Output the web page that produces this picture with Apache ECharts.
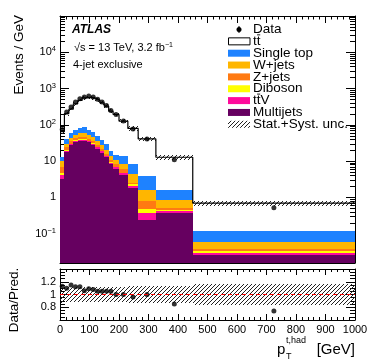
<!DOCTYPE html>
<html>
<head>
<meta charset="UTF-8">
<title>pT t,had 4-jet exclusive</title>
<script src="https://cdn.jsdelivr.net/npm/echarts@6/dist/echarts.min.js"></script>
<style>
    html, body { margin: 0; padding: 0; background: #fff; }
    #chart { width: 374px; height: 363px; }
</style>
</head>
<body>
<div id="chart"></div>
<script>
// bin edges in GeV
var binEdges = [0, 15, 30, 45, 60, 75, 90, 105, 120, 135, 150, 165, 180, 200, 230, 265, 325, 450, 1000];

// events / GeV
var dataVals  = [74, 226, 310, 427, 528, 590, 626, 590, 505, 427, 344, 250, 193, 127, 77, 41, 10.9, 0.52];
var ttbar     = [52.8, 165, 210, 308, 388, 471, 501, 483, 431, 368, 298, 219, 178, 113, 71.4, 37.1, 11.2, 0.58];
var singleTop = [2.4, 9.9, 16.5, 19.9, 24.5, 26.3, 19.9, 17.7, 14.5, 11.3, 8.7, 5.5, 4.5, 5.7, 4.3, 2.3, 0.76, 0.056];
var wJets     = [3.5, 5.6, 7.6, 9.2, 11.7, 14.5, 11.8, 10.2, 8.1, 6.3, 4.8, 3.1, 2.4, 2.3, 1.74, 0.81, 0.33, 0.023];
var zJets     = [2.2, 3.9, 5.3, 6.4, 6.0, 5.1, 4.8, 4.0, 3.1, 2.4, 1.8, 1.3, 1.3, 1.15, 0.26, 0.305, 0.046, 0.0033];
var diboson   = [0.5, 0.9, 1.3, 1.6, 1.6, 1.3, 1.1, 0.9, 0.8, 0.6, 0.4, 0.3, 0.3, 0.25, 0.22, 0.11, 0.034, 0.004];
var ttV       = [0.8, 1.7, 2.3, 2.8, 2.9, 2.5, 2.3, 2.1, 1.7, 1.3, 1.0, 0.6, 0.5, 0.5, 0.22, 0.13, 0.054, 0.0036];
var multijets = [3.3, 17.5, 27.0, 32.7, 35.9, 36.6, 32.7, 27.8, 22.2, 17.2, 12.9, 8.5, 6.2, 4.1, 1.86, 0.245, 0.376, 0.026];

// relative stat+syst uncertainty of the prediction
var uncFrac   = [0.13, 0.12, 0.12, 0.12, 0.12, 0.12, 0.12, 0.12, 0.12, 0.12, 0.12, 0.12, 0.12, 0.12, 0.13, 0.13, 0.14, 0.16];

// data / prediction
var ratioVals = [1.13, 1.10, 1.15, 1.12, 1.12, 1.06, 1.09, 1.08, 1.05, 1.05, 1.05, 1.05, 1.0, 1.0, 0.96, 1.0, 0.85, 0.74];

var xTicks = [0, 100, 200, 300, 400, 500, 600, 700, 800, 900, 1000];
var ratioTicks = [0.8, 1, 1.2];

var Y_MIN = 0.0156, Y_MAX = 1.0e5;
var FONT = '"Liberation Sans", Arial, Helvetica, sans-serif';

// colours, bottom of the stack first
var stackDef = [
    {name: 'Multijets', vals: multijets, color: '#660060'},
    {name: 'ttV', vals: ttV, color: '#ff0a9c'},
    {name: 'Diboson', vals: diboson, color: '#ffff00'},
    {name: 'Z+jets', vals: zJets, color: '#ff7a12'},
    {name: 'W+jets', vals: wJets, color: '#ffb600'},
    {name: 'Single top', vals: singleTop, color: '#1e82ff'}
];

function makeHatch () {
    var c = document.createElement('canvas');
    c.width = 4; c.height = 4;
    var ctx = c.getContext('2d');
    ctx.strokeStyle = '#222';
    ctx.lineWidth = 1;
    ctx.beginPath();
    ctx.moveTo(0, 4); ctx.lineTo(4, 0);
    ctx.moveTo(-1, 1); ctx.lineTo(1, -1);
    ctx.moveTo(3, 5); ctx.lineTo(5, 3);
    ctx.stroke();
    return c;
}
var hatch = {image: makeHatch(), repeat: 'repeat'};

// rectangle from [x0, x1, low, high], snapped to whole pixels so neighbours touch
function rectItem (params, api) {
    var p0 = api.coord([api.value(0), api.value(3)]);
    var p1 = api.coord([api.value(1), api.value(2)]);
    var x0 = Math.round(p0[0]), x1 = Math.round(p1[0]);
    var y0 = Math.round(p0[1]), y1 = Math.round(p1[1]);
    return {
        type: 'rect',
        shape: {x: x0, y: y0, width: x1 - x0, height: y1 - y0},
        style: api.style()
    };
}

var series = [];
var cum = binEdges.slice(1).map(function () { return 0; });
stackDef.forEach(function (s) {
    var items = s.vals.map(function (v, i) {
        var low = cum[i] > 0 ? cum[i] : Y_MIN;
        cum[i] += v;
        return [binEdges[i], binEdges[i + 1], low, cum[i]];
    });
    series.push({
        type: 'custom', name: s.name, xAxisIndex: 0, yAxisIndex: 0,
        renderItem: rectItem, clip: true, silent: true,
        itemStyle: {color: s.color},
        encode: {x: [0, 1], y: [2, 3]},
        data: items
    });
});

// total prediction (stack + ttbar)
var total = ttbar.map(function (v, i) { return v + cum[i]; });

// ttbar outline
var stepData = total.map(function (v, i) { return [binEdges[i], v]; });
stepData.push([binEdges[binEdges.length - 1], total[total.length - 1]]);
series.push({
    type: 'line', name: 'ttbar', xAxisIndex: 0, yAxisIndex: 0, step: 'end',
    symbol: 'none', silent: true, lineStyle: {color: '#000', width: 1.2},
    data: stepData
});

// uncertainty band, main panel
series.push({
    type: 'custom', name: 'unc', xAxisIndex: 0, yAxisIndex: 0,
    renderItem: rectItem, clip: true, silent: true,
    itemStyle: {color: hatch},
    encode: {x: [0, 1], y: [2, 3]},
    data: total.map(function (v, i) {
        return [binEdges[i], binEdges[i + 1], v * (1 - uncFrac[i]), v * (1 + uncFrac[i])];
    })
});

// data points, main panel
series.push({
    type: 'scatter', name: 'Data', xAxisIndex: 0, yAxisIndex: 0,
    symbol: 'circle', symbolSize: 5, itemStyle: {color: '#000'}, silent: true,
    data: dataVals.map(function (v, i) { return [(binEdges[i] + binEdges[i + 1]) / 2, v]; })
});

// ratio band
series.push({
    type: 'custom', name: 'unc ratio', xAxisIndex: 2, yAxisIndex: 2,
    renderItem: rectItem, clip: true, silent: true,
    itemStyle: {color: hatch},
    encode: {x: [0, 1], y: [2, 3]},
    data: uncFrac.map(function (u, i) {
        return [binEdges[i], binEdges[i + 1], 1 - u, 1 + u];
    }),
    markLine: {
        silent: true, symbol: 'none', label: {show: false},
        lineStyle: {color: '#ff0000', type: [4, 3], width: 1},
        data: [{yAxis: 1}]
    }
});

// ratio points
series.push({
    type: 'scatter', name: 'ratio', xAxisIndex: 2, yAxisIndex: 2,
    symbol: 'circle', symbolSize: 5, itemStyle: {color: '#000'}, silent: true,
    data: ratioVals.map(function (v, i) { return [(binEdges[i] + binEdges[i + 1]) / 2, v]; })
});

function xAxisDef (grid, pos, labels, tickLen) {
    return {
        type: 'value', gridIndex: grid, position: pos, min: 0, max: 1000, interval: 100,
        axisLine: {show: true, onZero: false, lineStyle: {color: '#000', width: 1}},
        axisTick: {show: true, inside: true, length: tickLen, lineStyle: {color: '#000'}},
        minorTick: {show: true, splitNumber: 5, length: tickLen / 2, lineStyle: {color: '#000'}},
        splitLine: {show: false},
        axisLabel: {show: labels, color: '#000', fontSize: 11, fontFamily: FONT, margin: 4,
            formatter: function (v) { return xTicks.indexOf(v) >= 0 ? String(v) : ''; }}
    };
}

function logLabel (v) {
    var l = Math.log10(v);
    var e = Math.round(l);
    if (Math.abs(l - e) > 1e-6 || e > 4) return '';
    if (e === 0) return '1';
    if (e === 1) return '10';
    return '{b|10}{s|' + (e < 0 ? '\u2212' + (-e) : e) + '}';
}

function yLogDef (pos, labels) {
    return {
        type: 'log', gridIndex: 0, position: pos, min: Y_MIN, max: Y_MAX, logBase: 10, splitNumber: 10,
        axisLine: {show: true, onZero: false, lineStyle: {color: '#000', width: 1}},
        axisTick: {show: true, inside: true, length: 9, lineStyle: {color: '#000'}},
        minorTick: {show: true, splitNumber: 9, length: 5, lineStyle: {color: '#000'}},
        splitLine: {show: false},
        axisLabel: {show: labels, color: '#000', fontSize: 11, fontFamily: FONT, margin: 4,
            formatter: logLabel,
            rich: {
                b: {fontSize: 11, fontFamily: FONT, color: '#000'},
                s: {fontSize: 7.5, fontFamily: FONT, color: '#000', padding: [0, 0, 6, 0]}
            }}
    };
}

function yRatioDef (pos, labels) {
    return {
        type: 'value', gridIndex: 1, position: pos, min: 0.6, max: 1.4, interval: 0.2,
        axisLine: {show: true, onZero: false, lineStyle: {color: '#000', width: 1}},
        axisTick: {show: true, inside: true, length: 9, lineStyle: {color: '#000'}},
        minorTick: {show: true, splitNumber: 4, length: 5, lineStyle: {color: '#000'}},
        splitLine: {show: false},
        axisLabel: {show: labels, color: '#000', fontSize: 11, fontFamily: FONT, margin: 4,
            formatter: function (v) {
                for (var i = 0; i < ratioTicks.length; i++) {
                    if (Math.abs(v - ratioTicks[i]) < 1e-6) return String(ratioTicks[i]);
                }
                return '';
            }}
    };
}

// legend rows (drawn as graphics); bar marks the second t of tt-bar
var legendRows = [
    {text: 'Data', kind: 'data'},
    {text: 'tt', kind: 'box', bar: true},
    {text: 'Single top', color: '#1e82ff'},
    {text: 'W+jets', color: '#ffb600'},
    {text: 'Z+jets', color: '#ff7a12'},
    {text: 'Diboson', color: '#ffff00'},
    {text: 'ttV', color: '#ff0a9c', bar: true},
    {text: 'Multijets', color: '#660060'},
    {text: 'Stat.+Syst. unc.', kind: 'hatch'}
];
var LEG_FS = 13.5;
var graphics = [];
legendRows.forEach(function (row, i) {
    var yc = 29.5 + 11.85 * i;
    if (row.kind === 'data') {
        graphics.push({type: 'line', shape: {x1: 239, y1: yc - 3.5, x2: 239, y2: yc + 3.5}, style: {stroke: '#000', lineWidth: 1}});
        graphics.push({type: 'circle', shape: {cx: 239, cy: yc, r: 2.5}, style: {fill: '#000'}});
    } else if (row.kind === 'box') {
        graphics.push({type: 'rect', shape: {x: 228.5, y: yc - 3.5, width: 21.5, height: 7}, style: {fill: '#fff', stroke: '#000', lineWidth: 1}});
    } else if (row.kind === 'hatch') {
        graphics.push({type: 'rect', shape: {x: 228, y: yc - 3.5, width: 22, height: 7}, style: {fill: hatch}});
    } else {
        graphics.push({type: 'rect', shape: {x: 228, y: yc - 3.5, width: 22, height: 7}, style: {fill: row.color}});
    }
    graphics.push({type: 'text', x: 253, y: yc, style: {text: row.text, fill: '#000', fontSize: LEG_FS, fontFamily: FONT, verticalAlign: 'middle'}});
    if (row.bar) {
        var tw = 0.278 * LEG_FS;
        graphics.push({type: 'line', shape: {x1: 253 + tw + 0.3, y1: yc - 6.5, x2: 253 + 2 * tw - 0.3, y2: yc - 6.5}, style: {stroke: '#000', lineWidth: 0.9}});
    }
});

graphics.push({type: 'text', x: 72, y: 30, style: {text: 'ATLAS', fill: '#000', fontSize: 12, fontWeight: 'bold', fontStyle: 'italic', fontFamily: FONT, verticalAlign: 'middle'}});
graphics.push({type: 'text', x: 74, y: 48, style: {
    text: '\u221as = 13 TeV, 3.2 fb{s|\u22121}', fill: '#000', fontSize: 11, fontFamily: FONT, verticalAlign: 'middle',
    rich: {s: {fontSize: 7, fontFamily: FONT, fill: '#000', padding: [0, 0, 5, 0]}}
}});
graphics.push({type: 'text', x: 73, y: 65, style: {text: '4-jet exclusive', fill: '#000', fontSize: 11, fontFamily: FONT, verticalAlign: 'middle'}});

// axis titles
graphics.push({type: 'text', x: 19, y: 15, rotation: Math.PI / 2, style: {text: 'Events / GeV', fill: '#000', fontSize: 13.5, fontFamily: FONT, align: 'right', verticalAlign: 'middle'}});
graphics.push({type: 'text', x: 14, y: 300, rotation: Math.PI / 2, style: {text: 'Data/Pred.', fill: '#000', fontSize: 13.5, fontFamily: FONT, align: 'center', verticalAlign: 'middle'}});
graphics.push({type: 'text', x: 277, y: 350, style: {text: 'p', fill: '#000', fontSize: 15, fontFamily: FONT, verticalAlign: 'middle'}});
graphics.push({type: 'text', x: 286, y: 357, style: {text: 'T', fill: '#000', fontSize: 9, fontFamily: FONT, verticalAlign: 'middle'}});
graphics.push({type: 'text', x: 286, y: 341, style: {text: 't,had', fill: '#000', fontSize: 9, fontFamily: FONT, verticalAlign: 'middle'}});
graphics.push({type: 'text', x: 355, y: 350, style: {text: '[GeV]', fill: '#000', fontSize: 15, fontFamily: FONT, align: 'right', verticalAlign: 'middle'}});

var chart = echarts.init(document.getElementById('chart'), null, {renderer: 'canvas'});
chart.setOption({
    backgroundColor: '#fff',
    animation: false,
    textStyle: {fontFamily: FONT},
    grid: [
        {left: 60, top: 16, width: 295, height: 247},
        {left: 60, top: 269, width: 295, height: 51}
    ],
    xAxis: [
        xAxisDef(0, 'bottom', false, 7),
        xAxisDef(0, 'top', false, 7),
        xAxisDef(1, 'bottom', true, 6),
        xAxisDef(1, 'top', false, 6)
    ],
    yAxis: [
        yLogDef('left', true),
        yLogDef('right', false),
        yRatioDef('left', true),
        yRatioDef('right', false)
    ],
    series: series,
    graphic: graphics
});
</script>
</body>
</html>
